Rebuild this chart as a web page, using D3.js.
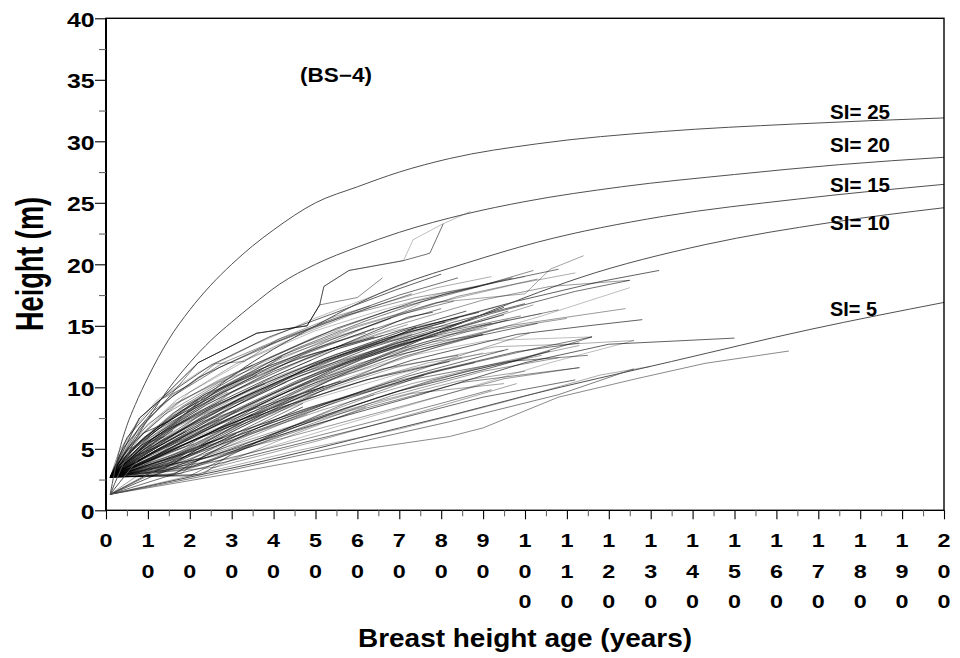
<!DOCTYPE html>
<html>
<head>
<meta charset="utf-8">
<script src="https://cdn.jsdelivr.net/npm/d3@7"></script>
<style>
  html, body { margin: 0; background: #fff; }
  svg { display: block; }
  text { font-family: "Liberation Sans", Arial, Helvetica, sans-serif; font-weight: bold; fill: #000; }
</style>
</head>
<body>
<svg id="chart" width="960" height="658"></svg>
<script>
// ---- axis ticks -------------------------------------------------------
const xTicks = [0, 10, 20, 30, 40, 50, 60, 70, 80, 90, 100, 110, 120, 130, 140, 150, 160, 170, 180, 190, 200];
const xMinor = [5, 15, 25, 35, 45, 55, 65, 75, 85, 95, 105, 115, 125, 135, 145, 155, 165, 175, 185, 195];
const yTicks = [0, 5, 10, 15, 20, 25, 30, 35, 40];
const yMinor = [2.5, 7.5, 12.5, 17.5, 22.5, 27.5, 32.5, 37.5];

// ---- site index curves (height at breast-height age 50) -----------------
const siLabels = ["SI= 25", "SI= 20", "SI= 15", "SI= 10", "SI= 5"];
const si25 = [[1,1.3],[3,4.6],[5,6.9],[7,8.6],[10,10.8],[15,13.9],[20,16.3],[25,18.3],[30,20.0],[35,21.5],[40,22.8],[50,25.0],[60,26.3],[70,27.5],[82,28.6],[103,29.8],[133,30.8],[164,31.4],[200,31.9]];
const si20 = [[1,1.3],[5,4.4],[10,7.4],[15,9.9],[20,12.0],[25,13.8],[30,15.3],[35,16.7],[41.5,18.4],[50,20.0],[60,21.4],[70,22.6],[86,24.1],[100,25.1],[123,26.3],[150,27.3],[175,28.1],[200,28.7]];
const si15 = [[1,1.3],[10,5.0],[20,8.2],[30,10.9],[40,13.1],[50,15.0],[60,16.8],[70,18.3],[86,20.1],[103,21.8],[133,23.9],[165,25.3],[200,26.5]];
const si10 = [[1,1.3],[10,2.9],[20,4.8],[30,6.7],[40,8.4],[50,10.0],[60,11.6],[70,13.1],[86,15.4],[100,17.3],[113,18.9],[143,21.6],[173,23.4],[200,24.6]];
const si5  = [[1,1.3],[20,2.7],[35,3.8],[50,5.0],[70,6.7],[82,7.7],[100,9.3],[135,12.1],[168,14.7],[200,16.9]];
const siCurves = [si25, si20, si15, si10, si5];

// ---- stem analysis trees: age, height pairs -------------------------------
const trees = [
  // young, short series
  [1,2.7, 8,4.1, 18,6.0, 27,7.4],
  [1,2.7, 6,3.9, 14,5.6, 24,7.9, 33,9.0],
  [1,2.7, 10,4.0, 22,5.9, 35,7.8],
  [1,2.7, 5,4.2, 12,6.3, 20,8.1, 29,9.6],
  [1,2.7, 9,3.5, 19,5.0, 30,6.9, 41,8.3],
  [1,2.7, 7,4.6, 15,6.6, 25,8.4, 38,10.3],
  [1,2.7, 4,3.6, 11,5.2, 21,7.0, 31,8.1],
  [1,2.7, 13,3.2, 20,4.6, 32,6.7, 44,8.6],
  [1,2.7, 6,5.0, 13,6.9, 23,8.8, 36,11.0],
  [1,2.7, 9,4.9, 17,6.8, 28,8.6, 40,10.9, 49,12.2],
  [1,2.7, 16,2.9, 23,4.3, 35,6.5, 47,8.4],
  [1,2.7, 3,3.6, 10,5.8, 19,7.7, 26,9.1],
  [1,1.3, 9,2.8, 20,4.2, 34,6.2, 48,7.8],
  [1,2.7, 11,4.6, 22,6.4, 33,8.0, 45,9.3, 56,10.5],
  [1,2.7, 5,4.9, 10,7.0, 17,8.7, 27,10.6, 35,11.8],
  [1,2.7, 14,3.9, 26,5.7, 39,7.9, 52,9.8],
  [1,2.7, 8,5.6, 16,7.9, 24,9.5, 34,10.8, 42,12.5],
  [1,2.7, 12,4.4, 21,6.6, 31,8.7, 43,10.4],
  [1,2.7, 4,4.4, 9,6.3, 15,7.2, 22,8.9],
  [1,2.7, 18,3.0, 24,4.6, 34,6.1, 44,7.5, 55,9.0],
  [1,2.7, 5,3.5, 11,4.7, 18,5.8],
  [1,2.7, 3,3.2, 9,4.9, 16,6.5],
  [1,2.7, 7,3.3, 14,4.6, 21,5.4],
  [1,2.7, 4,3.9, 10,5.5, 14,6.0],
  [1,2.7, 8,3.1, 15,4.1, 25,5.6],
  [1,2.7, 6,4.3, 12,5.9, 20,7.5],
  [1,2.7, 2,3.1, 7,4.4, 13,5.3, 19,6.4],
  [1,2.7, 10,3.2, 17,4.3, 28,5.9],
  [1,2.7, 5,4.0, 9,5.1, 17,7.0],
  [1,2.7, 12,3.4, 22,4.8, 31,6.2],
  [1,2.7, 14,2.8, 22,3.6, 36,5.6, 50,7.6, 64,9.4],
  [1,2.7, 20,2.8, 27,4.0, 40,6.2, 58,8.8, 76,11.0],
  [1,2.7, 11,2.8, 19,3.9, 33,6.4, 47,8.7],
  [1,2.7, 22,2.9, 28,3.8, 45,6.2, 62,8.4],
  [1,2.7, 9,2.8, 16,3.8, 27,6.0, 38,7.9, 52,10.1],
  // middle of the stand
  [1,2.7, 10,5.0, 25,7.9, 40,10.2, 55,12.3, 70,14.2, 84,15.6],
  [1,2.7, 7,4.8, 20,7.6, 35,9.9, 50,12.0, 65,13.6, 78,14.9],
  [1,2.7, 12,4.5, 28,7.2, 45,9.9, 62,12.4, 80,14.5, 95,15.9],
  [1,2.7, 5,4.5, 15,7.3, 30,10.1, 45,12.2, 60,13.8, 72,15.1],
  [1,2.7, 9,4.3, 24,6.9, 40,9.5, 58,12.1, 76,14.0, 92,15.2],
  [1,2.7, 6,4.9, 18,8.1, 33,10.8, 49,12.9, 64,14.8],
  [1,2.7, 14,4.1, 30,7.0, 47,9.8, 66,12.6, 88,14.9, 104,16.0],
  [1,2.7, 8,5.2, 22,8.0, 38,10.6, 55,13.1, 70,14.6, 86,16.2],
  [1,2.7, 11,5.3, 27,8.3, 42,10.8, 57,12.7, 73,14.3],
  [1,2.7, 4,4.0, 13,6.4, 29,9.5, 48,12.3, 67,14.5, 81,15.4],
  [1,2.7, 10,4.7, 26,7.7, 44,10.6, 63,13.2, 83,15.3, 100,16.8],
  [1,2.7, 7,5.3, 19,8.5, 34,11.1, 50,13.2, 62,14.4],
  [1,2.7, 16,4.3, 32,7.3, 50,10.4, 68,12.9, 90,15.0, 108,16.3],
  [1,2.7, 9,5.9, 21,8.8, 37,11.5, 53,13.5, 69,15.3, 80,16.4],
  [1,2.7, 12,5.1, 29,8.2, 46,10.9, 64,13.0, 79,14.2],
  [1,2.7, 6,4.2, 17,6.9, 34,9.8, 52,12.3, 71,14.6, 89,16.1],
  [1,2.7, 20,4.8, 36,7.9, 54,10.7, 73,13.2, 96,15.5],
  [1,2.7, 8,4.6, 23,7.4, 41,10.4, 59,12.9, 77,15.0, 94,16.6],
  [1,2.7, 13,5.6, 31,8.9, 48,11.5, 66,13.7, 74,14.9],
  [1,2.7, 5,5.0, 14,7.8, 27,10.4, 43,12.6, 58,14.4, 68,15.6],
  [1,2.7, 11,4.2, 25,6.7, 42,9.6, 61,12.3, 82,14.6, 99,15.8],
  [1,2.7, 15,5.0, 33,8.4, 51,11.3, 70,13.8, 87,15.5],
  [1,2.7, 7,4.1, 21,7.1, 39,10.0, 57,12.2, 75,13.9, 91,14.8],
  [1,2.7, 10,5.6, 24,8.6, 40,11.3, 56,13.4, 72,15.7, 78,16.1],
  [1,2.7, 18,4.6, 35,7.6, 53,10.5, 72,12.8, 93,14.7, 110,15.6],
  [1,2.7, 9,5.0, 26,8.4, 44,11.2, 62,13.4, 76,14.3],
  [1,2.7, 3,3.9, 12,6.5, 28,9.6, 46,12.4, 64,14.1],
  [1,2.7, 14,4.8, 30,7.8, 49,10.9, 69,13.6, 86,15.0, 102,16.7],
  [1,2.7, 8,4.4, 24,7.8, 43,10.8, 60,12.6, 80,14.7],
  [1,2.7, 12,4.9, 27,7.5, 45,10.3, 63,12.7, 84,14.9, 96,16.2],
  [1,2.7, 6,5.4, 16,8.6, 31,11.2, 47,13.6, 56,14.7],
  [1,2.7, 19,5.2, 37,8.6, 55,11.6, 74,14.0, 95,16.5],
  [1,2.7, 10,4.1, 23,6.3, 41,9.3, 60,11.9, 78,13.7, 90,14.3],
  [1,2.7, 7,5.7, 18,8.9, 32,11.3, 48,13.4, 65,15.2, 75,16.8],
  [1,2.7, 13,4.4, 29,7.0, 47,10.0, 67,12.4, 85,13.9, 103,15.2],
  [1,2.7, 5,4.6, 15,7.5, 32,10.6, 50,12.8, 66,14.2],
  [1,2.7, 11,5.8, 25,9.0, 39,11.6, 54,13.9, 70,15.9, 83,17.0],
  [1,2.7, 17,3.9, 33,6.6, 52,9.8, 71,12.5, 90,14.3],
  [1,2.7, 9,4.7, 22,7.7, 38,10.5, 55,12.7, 73,14.6, 85,15.2],
  [1,2.7, 14,5.3, 32,8.7, 50,11.9, 67,14.0, 81,15.3],
  // dominant, fast growing
  [1,2.7, 6,5.8, 15,9.2, 28,12.0, 42,14.0, 58,15.9, 74,17.3, 89,18.2],
  [1,2.7, 9,6.3, 20,9.6, 34,12.3, 50,14.6, 66,16.3, 82,17.8, 100,19.0],
  [1,2.7, 4,5.0, 11,8.0, 22,10.8, 37,13.2, 53,15.4, 70,17.5, 84,18.9],
  [1,2.7, 12,6.0, 26,9.6, 42,12.6, 60,15.0, 79,16.9, 100,17.6, 106,19.6, 114,20.7],
  [1,2.7, 7,5.2, 18,8.4, 33,11.5, 50,14.1, 68,16.3, 87,18.0, 102,19.5],
  [1,2.7, 8,6.8, 16,9.3, 27,11.6, 41,13.7, 57,15.8, 73,17.6],
  [1,2.7, 10,5.5, 24,9.0, 41,12.2, 59,14.8, 78,16.8, 98,18.4, 112,19.3],
  [1,2.7, 5,5.9, 13,9.0, 25,11.8, 39,14.1, 55,16.1, 69,17.9, 80,19.2],
  [1,2.7, 15,5.9, 30,9.6, 47,12.7, 65,15.3, 84,17.4, 103,18.8],
  [1,2.7, 6,6.4, 12,8.9, 22,11.2, 35,13.4, 49,15.5, 62,17.2, 72,18.5],
  [1,2.7, 11,6.2, 23,9.3, 38,12.2, 55,14.8, 74,17.0, 94,18.6, 108,19.6],
  [1,2.7, 3,4.7, 8,7.5, 13,9.0, 20,10.2, 26,11.9, 33,12.1, 41,13.9, 55,15.8, 63,16.6],
  [1,2.7, 9,7.0, 14,8.8, 22,12.0, 36,14.4, 48,15.0, 51,16.7, 60,17.3, 66,18.9],
  [1,2.7, 13,6.4, 28,10.1, 45,13.1, 62,15.4, 81,17.6, 97,18.9],
  [1,2.7, 7,6.0, 17,9.0, 31,11.9, 46,14.2, 63,16.5, 79,18.1, 92,19.0],
  [1,2.7, 14,5.5, 32,9.1, 52,12.1, 74,14.8, 98,17.0, 118,18.6, 132,19.5],
  [1,2.7, 12,5.8, 29,9.4, 48,12.4, 68,14.9, 90,17.1, 106,18.2, 125,18.7],
  [1,2.7, 8,7.5, 13,9.0, 22,12.0, 36,14.4, 48,15.0, 51,16.7, 52,18.2, 58,19.5, 71,20.3, 73.3,22.0, 80.5,23.3, 87,24.3],
  [1,2.7, 8,7.5, 13,9.0, 22,12.0, 36,14.4, 48,15.0, 51,16.7, 52,18.2, 58,19.5, 71,20.3, 77.3,20.9, 80.5,23.3],
  // suppressed, slower growth
  [1,2.7, 15,3.9, 32,5.9, 52,8.2, 73,10.3, 95,12.1, 113,13.4],
  [1,2.7, 10,3.8, 28,5.9, 48,8.3, 68,10.4, 88,12.0],
  [1,2.7, 20,3.5, 38,5.8, 57,8.3, 78,10.6, 100,12.4, 116,14.1],
  [1,2.7, 8,3.9, 24,6.1, 44,8.6, 65,10.9, 85,12.4],
  [1,1.3, 12,2.9, 30,5.0, 50,7.5, 70,9.7, 92,11.6, 106,12.95],
  [1,2.7, 23,2.9, 30,4.6, 48,6.9, 68,9.3, 90,11.3, 108,12.4],
  [1,2.7, 13,4.3, 30,6.7, 50,9.1, 70,11.1, 90,12.8],
  [1,2.7, 17,4.0, 36,6.5, 56,8.9, 77,11.2, 98,12.9, 113,13.6],
  [1,1.3, 7,2.7, 22,4.4, 42,6.6, 63,8.7, 84,10.5, 100,11.3],
  [1,2.7, 11,4.6, 27,7.0, 46,9.4, 66,11.5, 84,12.6],
  [1,2.7, 19,4.4, 37,6.8, 58,9.3, 80,11.4, 103,13.2, 116,14.1],
  [1,2.7, 9,4.2, 26,6.6, 47,9.2, 69,11.6, 93,13.3, 110,13.5, 126,13.8],
  [1,2.7, 14,4.7, 31,7.2, 51,9.8, 73,12.2, 98,14.3, 115,15.0, 128,15.5],
  [1,2.7, 12,4.9, 30,7.8, 50,10.6, 72,13.0, 96,15.0, 124,16.4],
  [1,2.7, 16,4.9, 35,7.8, 57,10.7, 80,13.4, 104,15.8, 125,18.1],
  [1,2.7, 10,4.4, 26,7.4, 46,10.6, 68,13.4, 92,16.0, 112,17.8, 125,18.7],
  [1,1.3, 10,2.8, 28,4.9, 50,7.3, 73,9.5, 95,10.3],
  [1,2.7, 21,3.6, 40,5.8, 62,8.3, 85,10.4, 113,11.6],
  [1,2.7, 13,4.0, 30,6.2, 51,8.6, 74,10.7, 96,12.1, 115,12.6],
  [1,2.7, 18,4.8, 36,7.5, 56,10.0, 77,12.0, 95,13.0],
  [1,2.7, 7,3.5, 21,5.7, 41,8.3, 62,10.6, 82,12.1],
  [1,2.7, 25,4.0, 44,6.6, 65,9.2, 86,11.3, 104,12.6],
  [1,2.7, 15,5.2, 34,8.2, 54,10.7, 73,12.6, 91,13.8, 116,14.1],
  [1,2.7, 11,3.7, 29,5.8, 49,8.3, 72,10.9, 96,13.1],
  [1,2.7, 22,4.2, 41,6.9, 61,9.7, 82,12.3, 101,14.4],
  // long, slow series
  [1,1.3, 30,3.0, 60,4.9, 82,6.0, 90,6.7, 108,9.2, 126.6,10.7, 143,11.95, 163,12.95],
  [1,1.3, 25,2.9, 52,4.9, 82,7.2, 108,9.4, 126,11.5],
  [1,1.3, 20,2.8, 45,4.8, 70,6.6, 95,8.8, 118,11.0, 130,11.7],
  [1,2.7, 24,4.3, 50,7.0, 75,9.4, 100,12.0, 120,13.5, 150,14.0],
  [1,2.7, 20,3.9, 45,6.1, 70,8.4, 95,10.7, 113,11.6],
  [1,2.7, 30,4.2, 55,6.8, 80,9.3, 106,12.0, 126,13.8],
  [1,1.3, 14,2.7, 40,4.9, 66,7.1, 90,9.2, 112,10.6],
  [1,2.7, 26,3.5, 50,5.6, 75,8.0, 98,10.3],
  [1,2.7, 18,3.3, 42,5.3, 68,7.6, 92,9.8]
];

// ---- layout -----------------------------------------------------------------
const svg = d3.select("#chart");
const plotLeft = 106, plotRight = 944, plotTop = 18.3, plotBottom = 510.3;
const x = d3.scaleLinear().domain([0, 200]).range([plotLeft, plotRight]);
const y = d3.scaleLinear().domain([0, 40]).range([plotBottom, plotTop]);

// horizontal text is set slightly wide; stretch it to a fixed ink width
function label(g, str, px, py, size, width, anchor) {
  return g.append("text")
    .attr("x", px).attr("y", py)
    .attr("font-size", size)
    .attr("text-anchor", anchor || "start")
    .attr("textLength", width)
    .attr("lengthAdjust", "spacingAndGlyphs")
    .text(str);
}

svg.append("clipPath").attr("id", "plot")
  .append("rect").attr("x", plotLeft).attr("y", plotTop)
  .attr("width", plotRight - plotLeft).attr("height", plotBottom - plotTop);

// tree series
const pairs = arr => d3.range(0, arr.length, 2).map(i => [arr[i], arr[i + 1]]);
const line = d3.line().x(d => x(d[0])).y(d => y(d[1]));
const tones = [0.5, 0.32, 0.62, 0.4, 0.26, 0.56, 0.36, 0.46];
svg.append("g").attr("clip-path", "url(#plot)")
  .selectAll("path").data(trees).join("path")
  .attr("d", d => line(pairs(d)))
  .attr("fill", "none")
  .attr("stroke", "#000")
  .attr("stroke-opacity", (d, i) => tones[i % tones.length])
  .attr("stroke-width", 1)
  .attr("stroke-linejoin", "round");

// site index curves
const smooth = d3.line().x(d => x(d[0])).y(d => y(d[1])).curve(d3.curveMonotoneX);
svg.append("g").attr("clip-path", "url(#plot)")
  .selectAll("path").data(siCurves).join("path")
  .attr("d", smooth)
  .attr("fill", "none")
  .attr("stroke", "#505050")
  .attr("stroke-width", 1);

// site index labels
const siBaselines = [119, 151.5, 191.5, 230, 315.5];
const siWidths = [60, 60, 60, 60, 47];
const lab = svg.append("g");
siLabels.forEach((s, i) => label(lab, s, 830, siBaselines[i], 20, siWidths[i]));
label(lab, "(BS\u22124)", 300, 82, 19.5, 72);

// frame
svg.append("rect")
  .attr("x", plotLeft).attr("y", plotTop)
  .attr("width", plotRight - plotLeft).attr("height", plotBottom - plotTop)
  .attr("fill", "none").attr("stroke", "#000").attr("stroke-width", 1.4);
svg.append("line")
  .attr("x1", plotLeft).attr("x2", plotLeft).attr("y1", plotTop).attr("y2", plotBottom)
  .attr("stroke", "#000").attr("stroke-width", 2);

// y axis ticks
const yAxis = svg.append("g").attr("transform", `translate(${plotLeft},0)`);
yAxis.call(d3.axisLeft(y).tickValues(yTicks).tickSize(11).tickFormat(""));
yAxis.append("g").call(d3.axisLeft(y).tickValues(yMinor).tickSize(7).tickFormat(""))
  .selectAll("line").attr("stroke", "#666");
yAxis.selectAll(".domain").remove();
yAxis.selectAll("line").attr("stroke-width", 1.1);
const yLab = svg.append("g");
yTicks.forEach(v => {
  const s = String(v);
  label(yLab, s, 94.5, y(v) + 8.4, 21, s.length * 13.8, "end");
});

// x axis ticks
const xAxis = svg.append("g").attr("transform", `translate(0,${plotBottom})`);
xAxis.call(d3.axisBottom(x).tickValues(xTicks).tickSize(9).tickFormat(""));
xAxis.append("g").call(d3.axisBottom(x).tickValues(xMinor).tickSize(6).tickFormat(""))
  .selectAll("line").attr("stroke", "#666");
xAxis.selectAll(".domain").remove();
xAxis.selectAll("line").attr("stroke-width", 1.1);

// x tick labels: digits stacked one above the other
const rowBaselines = [547, 578, 607.5];
const xLab = svg.append("g");
xTicks.forEach(v => {
  String(v).split("").forEach((ch, r) => {
    label(xLab, ch, x(v), rowBaselines[r], 19, 13, "middle");
  });
});

// axis titles
label(svg, "Breast height age (years)", 358, 646.5, 26, 334);
svg.append("text")
  .attr("transform", "translate(43,264) scale(1.5,1) rotate(-90)")
  .attr("font-size", 26)
  .attr("text-anchor", "middle")
  .attr("textLength", 134)
  .attr("lengthAdjust", "spacingAndGlyphs")
  .text("Height (m)");
</script>
</body>
</html>
